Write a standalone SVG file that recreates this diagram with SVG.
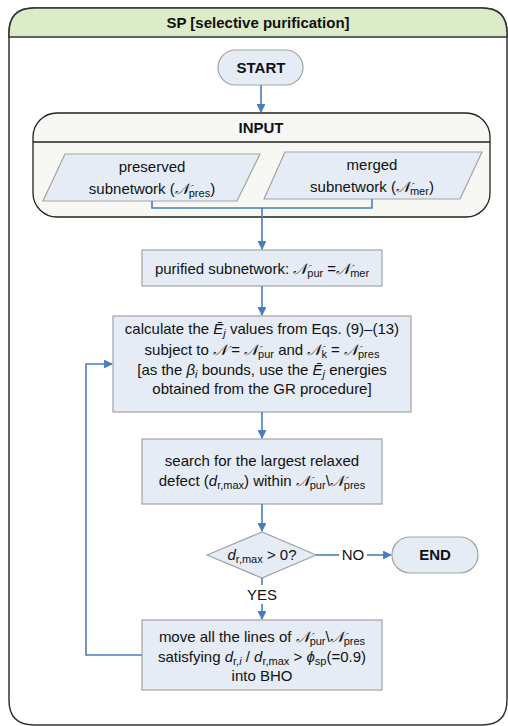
<svg xmlns="http://www.w3.org/2000/svg" width="508" height="726" viewBox="0 0 508 726">
<style>
text{font-family:"Liberation Sans",Arial,sans-serif;font-size:15px;fill:#111;text-anchor:middle}
.b{font-weight:bold}
.node{fill:#e6ecf6;stroke:#a3a3a3;stroke-width:1.2}
.con{fill:none;stroke:#4a7ebb;stroke-width:1.6}
.n{font-family:"DejaVu Serif","Liberation Serif",serif;font-style:italic;font-size:15px}
.s{font-size:11px}
.i{font-style:italic}
</style>
<defs>
<marker id="ah" viewBox="0 0 10 10" refX="9" refY="5" markerWidth="5.5" markerHeight="5.5" orient="auto" markerUnits="strokeWidth">
<path d="M0,0 L10,5 L0,10 z" fill="#4a7ebb"/>
</marker>
</defs>
<g id="frame">
<path d="M9,700 L9,33 Q9,8 34,8 L482,8 Q507,8 507,33 L507,700 Q507,725 482,725 L34,725 Q9,725 9,700 Z" fill="#fff" stroke="#333" stroke-width="1.5"/>
<path d="M9,37 L9,33 Q9,8 34,8 L482,8 Q507,8 507,33 L507,37 Z" fill="#dcebc8" stroke="#333" stroke-width="1.5"/>
<text class="b" x="258" y="28">SP [selective purification]</text>
</g>
<g id="input">
<rect x="33" y="113" width="457" height="104" rx="24" fill="#f7f8f4" stroke="#222" stroke-width="1.3"/>
<line x1="33" y1="142" x2="490" y2="142" stroke="#222" stroke-width="1.3"/>
<text class="b" x="261" y="133">INPUT</text>
</g>
<g id="start">
<rect x="218" y="50" width="85" height="35" rx="17.5" class="node"/>
<text class="b" x="261" y="73">START</text>
</g>
<g id="pres">
<polygon points="65,154 260,154 237,201 43,201" class="node"/>
<text x="152" y="172">preserved</text>
<text x="152" y="194">subnetwork (<tspan class="n">𝒩</tspan><tspan class="s" dy="3">pres</tspan><tspan dy="-3">)</tspan></text>
</g>
<g id="mer">
<polygon points="285,152 482,152 460,199 264,199" class="node"/>
<text x="372" y="170">merged</text>
<text x="372" y="192">subnetwork (<tspan class="n">𝒩</tspan><tspan class="s" dy="3">mer</tspan><tspan dy="-3">)</tspan></text>
</g>
<g id="purified">
<rect x="142" y="250" width="240" height="36" class="node"/>
<text x="262" y="274">purified subnetwork: <tspan class="n">𝒩</tspan><tspan class="s" dy="3">pur</tspan><tspan dy="-3"> =</tspan><tspan class="n">𝒩</tspan><tspan class="s" dy="3">mer</tspan></text>
</g>
<g id="calc">
<rect x="113" y="316" width="298" height="96" class="node"/>
<text x="262" y="334">calculate the <tspan class="i">Ē</tspan><tspan class="s i" dy="3">j</tspan><tspan dy="-3"> values from Eqs. (9)–(13)</tspan></text>
<text x="262" y="355">subject to <tspan class="n">𝒩</tspan> = <tspan class="n">𝒩</tspan><tspan class="s" dy="3">pur</tspan><tspan dy="-3"> and </tspan><tspan class="n">𝒩</tspan><tspan class="s" dy="3">k</tspan><tspan dy="-3"> = </tspan><tspan class="n">𝒩</tspan><tspan class="s" dy="3">pres</tspan></text>
<text x="262" y="375">[as the <tspan class="i">β</tspan><tspan class="s i" dy="3">i</tspan><tspan dy="-3"> bounds, use the </tspan><tspan class="i">Ē</tspan><tspan class="s i" dy="3">j</tspan><tspan dy="-3"> energies</tspan></text>
<text x="262" y="394">obtained from the GR procedure]</text>
</g>
<g id="search">
<rect x="142" y="439" width="240" height="65" class="node"/>
<text x="262" y="466">search for the largest relaxed</text>
<text x="262" y="486">defect (<tspan class="i">d</tspan><tspan class="s" dy="3">r,max</tspan><tspan dy="-3">) within </tspan><tspan class="n">𝒩</tspan><tspan class="s" dy="3">pur</tspan><tspan dy="-3">\</tspan><tspan class="n">𝒩</tspan><tspan class="s" dy="3">pres</tspan></text>
</g>
<g id="decision">
<polygon points="207,555 262,532 316,555 262,578" class="node"/>
<text x="262" y="560"><tspan class="i">d</tspan><tspan class="s" dy="3">r,max</tspan><tspan dy="-3"> &gt; 0?</tspan></text>
</g>
<g id="end">
<rect x="392" y="537" width="86" height="36" rx="18" class="node"/>
<text class="b" x="435" y="560">END</text>
</g>
<g id="move">
<rect x="142" y="620" width="240" height="70" class="node"/>
<text x="262" y="642">move all the lines of <tspan class="n">𝒩</tspan><tspan class="s" dy="3">pur</tspan><tspan dy="-3">\</tspan><tspan class="n">𝒩</tspan><tspan class="s" dy="3">pres</tspan></text>
<text x="262" y="662">satisfying <tspan class="i">d</tspan><tspan class="s" dy="3">r,</tspan><tspan class="s i">i</tspan><tspan dy="-3"> / </tspan><tspan class="i">d</tspan><tspan class="s" dy="3">r,max</tspan><tspan dy="-3"> &gt; </tspan><tspan class="i">ϕ</tspan><tspan class="s" dy="3">sp</tspan><tspan dy="-3">(=0.9)</tspan></text>
<text x="262" y="681">into BHO</text>
</g>
<g id="connectors">
<line x1="261" y1="85" x2="261" y2="112" class="con" marker-end="url(#ah)"/>
<polyline points="152,201 152,208 372,208 372,199" class="con"/>
<line x1="262" y1="208" x2="262" y2="249" class="con" marker-end="url(#ah)"/>
<line x1="262" y1="286" x2="262" y2="315" class="con" marker-end="url(#ah)"/>
<line x1="262" y1="412" x2="262" y2="438" class="con" marker-end="url(#ah)"/>
<line x1="262" y1="504" x2="262" y2="531" class="con" marker-end="url(#ah)"/>
<line x1="316" y1="555" x2="339" y2="555" class="con"/>
<line x1="367" y1="555" x2="391" y2="555" class="con" marker-end="url(#ah)"/>
<text x="353" y="560">NO</text>
<line x1="262" y1="578" x2="262" y2="585" class="con"/>
<text x="262" y="600">YES</text>
<line x1="262" y1="604" x2="262" y2="619" class="con" marker-end="url(#ah)"/>
<polyline points="142,655 86,655 86,364 112,364" class="con" marker-end="url(#ah)"/>
</g>
</svg>
